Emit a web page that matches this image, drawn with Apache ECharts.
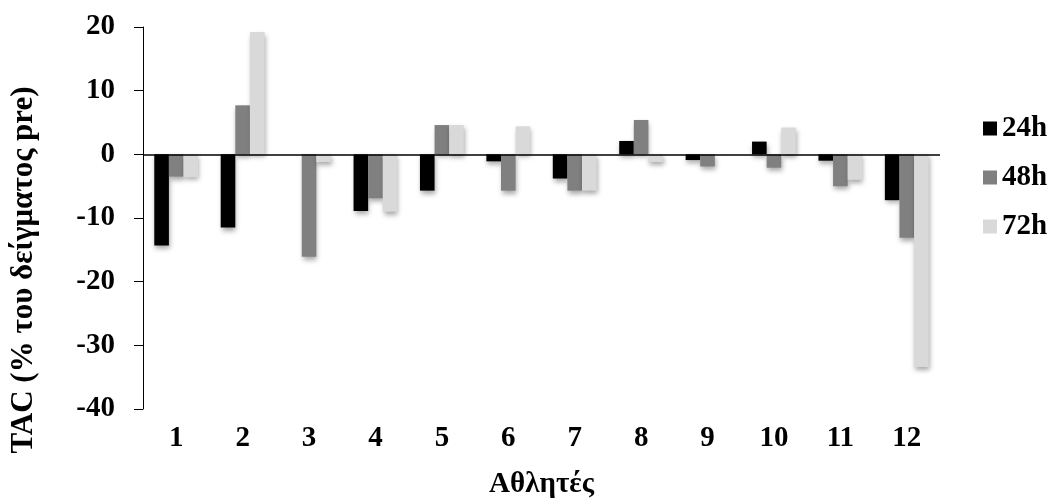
<!DOCTYPE html>
<html>
<head>
<meta charset="utf-8">
<script src="https://cdn.jsdelivr.net/npm/echarts@6/dist/echarts.min.js"></script>
<style>html,body{margin:0;padding:0;background:#fff;}#c{width:1052px;height:504px;}</style>
</head>
<body>
<div id="c"></div>
<script>
const categories = ['1','2','3','4','5','6','7','8','9','10','11','12'];
const seriesNames = ['24h','48h','72h'];
const values24h = [-14.3, -11.5, 0, -8.9, -5.7, -1.1, -3.8, 2.1, -0.9, 2.0, -1.0, -7.2];
const values48h = [-3.5, 7.7, -16.1, -6.9, 4.6, -5.7, -5.7, 5.4, -1.9, -2.1, -5.0, -13.1];
const values72h = [-3.6, 19.2, -1.2, -9.0, 4.6, 4.4, -5.7, -1.2, 0, 4.2, -4.0, -33.4];
const colors = ['#000000', '#808080', '#d9d9d9'];
const xTitle = 'Αθλητές';
const yTitle = 'TAC (% του δείγματος pre)';

const font = '"Liberation Serif", "DejaVu Serif", serif';
const allValues = [values24h, values48h, values72h];

const chart = echarts.init(document.getElementById('c'));
const series = seriesNames.map((n, i) => ({
  name: n,
  type: 'bar',
  data: allValues[i],
  barGap: '0%',
  barCategoryGap: '34%',
  itemStyle: {
    color: colors[i],
    shadowColor: 'rgba(0,0,0,0.35)',
    shadowBlur: 5,
    shadowOffsetX: 1,
    shadowOffsetY: 3
  },
  markLine: i === 0 ? {
    silent: true,
    symbol: 'none',
    label: {show: false},
    lineStyle: {color: '#000', width: 1.6, type: 'solid'},
    data: [{yAxis: 0}]
  } : undefined
}));

chart.setOption({
  animation: false,
  backgroundColor: '#fff',
  grid: {left: 142, right: 112, top: 27, bottom: 95, containLabel: false},
  legend: {
    orient: 'vertical',
    left: 978,
    top: 109,
    itemWidth: 14,
    itemHeight: 14,
    itemGap: 20,
    icon: 'rect',
    data: seriesNames,
    textStyle: {fontFamily: font, fontWeight: 'bold', fontSize: 29, color: '#000', lineHeight: 28}
  },
  xAxis: {
    type: 'category',
    data: categories,
    name: xTitle,
    nameLocation: 'middle',
    nameGap: 61,
    nameTextStyle: {fontFamily: font, fontWeight: 'bold', fontSize: 29, color: '#000'},
    axisLine: {show: false, onZero: false},
    axisTick: {show: false},
    axisLabel: {fontFamily: font, fontWeight: 'bold', fontSize: 29, color: '#000', margin: 15}
  },
  yAxis: {
    type: 'value',
    min: -40,
    max: 20,
    interval: 10,
    name: yTitle,
    nameLocation: 'middle',
    nameGap: 104,
    nameTextStyle: {fontFamily: font, fontWeight: 'bold', fontSize: 31, color: '#000', padding: [0, 104, 0, 0]},
    axisLine: {show: true, lineStyle: {color: '#000', width: 1}},
    axisTick: {show: true, length: 9, lineStyle: {color: '#000', width: 1}},
    splitLine: {show: false},
    axisLabel: {fontFamily: font, fontWeight: 'bold', fontSize: 29, color: '#000', margin: 28}
  },
  series: series
});
</script>
</body>
</html>
